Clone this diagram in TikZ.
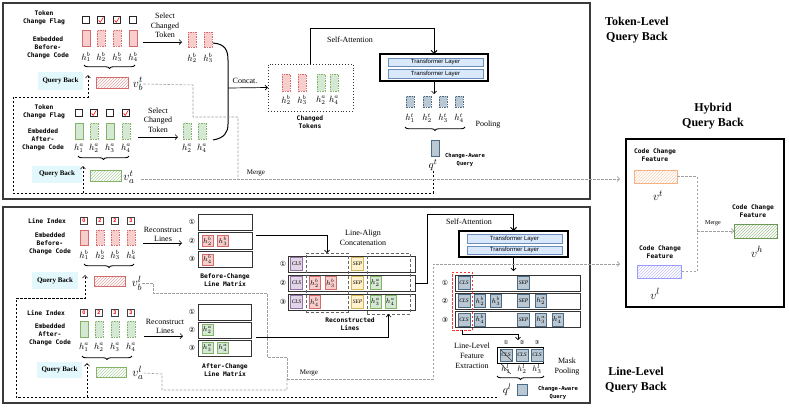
\documentclass[tikz,border=0pt]{standalone}
\usepackage{fontspec}
\usetikzlibrary{arrows.meta,decorations.pathreplacing,patterns,calc}
\setmainfont{Liberation Serif}
\setmonofont{DejaVu Sans Mono}
\setsansfont{Liberation Sans}
\newfontfamily\djv{DejaVu Sans}
\definecolor{pinkf}{HTML}{F8CECC}
\definecolor{pinkd}{HTML}{D46A6A}
\definecolor{greenf}{HTML}{D5E8D4}
\definecolor{greend}{HTML}{82B366}
\definecolor{bgf}{HTML}{BAC8D3}
\definecolor{bgd}{HTML}{4A6A85}
\definecolor{purf}{HTML}{E1D5E7}
\definecolor{purd}{HTML}{9673A6}
\definecolor{yelf}{HTML}{FFF2CC}
\definecolor{yeld}{HTML}{D6B656}
\definecolor{tlf}{HTML}{DAE8FC}
\definecolor{tld}{HTML}{6C8EBF}
\definecolor{qbf}{HTML}{E3F8FC}
\definecolor{panelc}{HTML}{3A3A3A}
\definecolor{mgray}{HTML}{A0A0A0}
\definecolor{orgd}{HTML}{F4B183}
\definecolor{purh}{HTML}{9999FF}
\definecolor{grh}{HTML}{6A9955}
\tikzset{
  nb/.style={inner sep=0pt, outer sep=0pt},
  tbar/.style={nb, rectangle, minimum width=8pt, minimum height=#1},
  pk/.style={fill=pinkf, draw=pinkd, line width=0.5pt},
  gr/.style={fill=greenf, draw=greend, line width=0.5pt},
  bgc/.style={fill=bgf, draw=bgd, line width=0.5pt},
  dsh/.style={dash pattern=on 1.5pt off 1pt},
  mono/.style={font=\ttfamily\bfseries\fontsize{6.3}{8}\selectfont, align=center, inner sep=0pt},
  smono/.style={font=\ttfamily\bfseries\fontsize{5.5}{8}\selectfont, align=center, inner sep=0pt},
  ser/.style={font=\fontsize{8}{9.5}\selectfont, align=center, inner sep=0pt},
  mser/.style={font=\fontsize{7}{8}\selectfont, inner sep=0pt},
  lab/.style={font=\fontsize{9}{10}\selectfont, inner sep=0pt},
  slab/.style={font=\fontsize{8}{9}\selectfont, inner sep=0pt},
  vlab/.style={font=\fontsize{13}{14}\selectfont, inner sep=0pt},
  qlab/.style={font=\fontsize{11}{12}\selectfont, inner sep=0pt},
  ttl/.style={font=\bfseries\fontsize{12}{15}\selectfont, align=center, inner sep=0pt},
  qb/.style={nb, fill=qbf, font=\bfseries\fontsize{7}{8}\selectfont},
  hatch/.style={nb, draw=#1, line width=0.6pt, pattern=north east lines, pattern color=#1!60},
  chk/.style={nb, draw=black!85, line width=0.7pt, minimum size=7pt},
  idx/.style={nb, draw=black!75, line width=0.8pt, minimum size=7pt, text=red, font=\sffamily\bfseries\fontsize{5.5}{6}\selectfont},
  arr/.style={-{Straight Barb[length=2.5pt,width=5pt]}, line width=0.7pt},
  sarr/.style={-{Straight Barb[length=3pt,width=6pt]}, line width=1pt},
  qarr/.style={-{Straight Barb[length=2.5pt,width=5pt]}, line width=0.7pt, dash pattern=on 2.5pt off 1.5pt},
  mline/.style={draw=mgray, line width=0.6pt, dash pattern=on 2.5pt off 1.5pt},
  marr/.style={mline, -{Straight Barb[length=2.5pt,width=5pt]}},
  brc/.style={decorate, decoration={brace, mirror, amplitude=3.5pt}, line width=0.9pt},
  panel/.style={draw=panelc, line width=1.6pt},
  cell/.style={nb, minimum width=11pt, minimum height=11pt, font=\fontsize{7}{8}\selectfont},
  tok/.style={nb, minimum width=12pt, minimum height=13pt, line width=0.5pt, font=\itshape\fontsize{5.5}{6}\selectfont},
  lrow/.style={nb, draw=black!80, line width=1pt},
  circ/.style={inner sep=0pt, font=\djv\fontsize{7}{8}\selectfont},
  scirc/.style={inner sep=0pt, font=\djv\fontsize{5.5}{6}\selectfont},
  tlayer/.style={nb, fill=tlf, draw=tld, line width=0.4pt, font=\sffamily\fontsize{6}{7}\selectfont},
  tbox/.style={nb, draw=black, line width=1.3pt},
  dbox/.style={nb, draw=black!60, dash pattern=on 3pt off 2pt, line width=0.8pt},
}
\begin{document}
\begin{tikzpicture}[x=1pt,y=-1pt]
\useasboundingbox[fill=white] (0,0) rectangle (789,408);
% panels
\draw[panel] (3,3) rectangle (590,199);
\draw[panel] (3,207) rectangle (590,403);
\node[ttl] (ttl1) at (637,30) {Token-Level\\Query Back};
\node[ttl] (ttl2) at (713,116.5) {Hybrid\\Query Back};
\node[ttl] (ttl3) at (636,380.5) {Line-Level\\Query Back};

% ================= TOP PANEL =================
\node[mono] (tf1t) at (44,18) {Token\\Change Flag};
\node[mono] (te1t) at (48,47.5) {Embedded\\Before-\\Change Code};
\foreach \i/\x in {1/86,2/101,3/117,4/133}{
  \node[chk] (tc\i) at (\x,20) {};
  \node[lab] (tbl\i) at (\x,57) {$h_{\i}^{b}$};
}
\foreach \i/\x in {1/86,4/133} \node[tbar=16pt,pk] (tb\i) at (\x,38) {};
\foreach \i/\x in {2/101,3/117} \node[tbar=16pt,pk,dsh] (tb\i) at (\x,38) {};
\foreach \i in {2,3} \draw[red, line width=0.6pt] ($(tc\i)+(-2.3,0.3)$) -- ($(tc\i)+(-0.8,2.3)$) -- ($(tc\i)+(2.3,-2.6)$);
\draw[brc] (84,65) -- (135,65);
\node[qb, minimum width=45pt, minimum height=18pt] (tqb1) at (60.5,81) {Query Back};
\node[hatch=pinkd, minimum width=32pt, minimum height=11pt] (tvb) at (112,82.5) {};
\node[vlab] (tvbl) at (138,84) {$v_b^t$};

\node[mono] (tf2t) at (44,112) {Token\\Change Flag};
\node[mono] (te2t) at (43,139.5) {Embedded\\After-\\Change Code};
\foreach \i/\x in {1/79,2/94,3/110,4/126}{
  \node[chk] (tac\i) at (\x,113) {};
  \node[lab] (tal\i) at (\x,148) {$h_{\i}^{a}$};
}
\foreach \i/\x in {1/79,3/110} \node[tbar=16pt,gr] (ta\i) at (\x,131) {};
\foreach \i/\x in {2/94,4/126} \node[tbar=16pt,gr,dsh] (ta\i) at (\x,131) {};
\foreach \i in {2,4} \draw[red, line width=0.6pt] ($(tac\i)+(-2.3,0.3)$) -- ($(tac\i)+(-0.8,2.3)$) -- ($(tac\i)+(2.3,-2.6)$);
\draw[brc] (78,156) -- (129,156);
\node[qb, minimum width=50pt, minimum height=17pt] (tqb2) at (57,174) {Query Back};
\node[hatch=greend, minimum width=31pt, minimum height=11pt] (tva) at (105.5,175.5) {};
\node[vlab] (tval) at (129,177) {$v_a^t$};

% select changed token
\node[ser] (tsel1) at (165,25.5) {Select\\Changed\\Token};
\coordinate (tsa1) at (143,42); \coordinate (tsb1) at (182,42);
\draw[arr] (tsa1) -- (tsb1);
\node[ser] (tsel2) at (158,120) {Select\\Changed\\Token};
\coordinate (tsa2) at (138,137); \coordinate (tsb2) at (178,137);
\draw[arr] (tsa2) -- (tsb2);
\node[tbar=15pt,pk,dsh] (ts2) at (192,39.5) {};
\node[tbar=15pt,pk,dsh] (ts3) at (208,39.5) {};
\node[lab] (ts2l) at (192,58) {$h_2^b$};
\node[lab] (ts3l) at (208,58) {$h_3^b$};
\node[tbar=16pt,gr,dsh] (tsa2n) at (187,131) {};
\node[tbar=16pt,gr,dsh] (tsa4n) at (202,131) {};
\node[lab] (tsa2l) at (187,148) {$h_2^a$};
\node[lab] (tsa4l) at (202,148) {$h_4^a$};

% concat
\node[nb, draw=black!80, dotted, line width=0.9pt, minimum width=85pt, minimum height=47pt] (ctbox) at (310.5,87.5) {};
\coordinate (cc1) at (213,43); \coordinate (cc2) at (213,140); \coordinate (ccm) at (228,88);
\draw[line width=1pt] (cc1) .. controls (225,44) and (228,50) .. (228,60) -- (228,124) .. controls (228,133) and (224,138) .. (cc2);
\draw[arr] (ccm) -- (ctbox.west);
\node[ser] (tcat) at (245,81) {Concat.};
\node[tbar=17pt,pk,dsh] (ct1) at (286,82.5) {};
\node[tbar=17pt,pk,dsh] (ct2) at (302,82.5) {};
\node[tbar=17pt,gr,dsh] (ct3) at (321,82.5) {};
\node[tbar=17pt,gr,dsh] (ct4) at (334,82.5) {};
\node[lab] (ct1l) at (286,100) {$h_2^b$};
\node[lab] (ct2l) at (302,100) {$h_3^b$};
\node[lab] (ct3l) at (321,100) {$h_2^a$};
\node[lab] (ct4l) at (334,100) {$h_4^a$};
\node[mono] (ctt) at (310,122.5) {Changed\\Tokens};

% transformer top
\node[tbox, minimum width=108pt, minimum height=27pt] (tf1) at (434,67.5) {};
\node[tlayer, minimum width=95pt, minimum height=8pt] (tf1a) at (435.5,62) {Transformer Layer};
\node[tlayer, minimum width=95pt, minimum height=9pt] (tf1b) at (435.5,73.5) {Transformer Layer};
\draw[sarr] (ctbox.north) |- ($(tf1.north)+(0,-26)$) -- (tf1.north);
\node[ser] (tsat) at (350,40) {Self-Attention};
\coordinate (tfo1) at (434,94);
\draw[arr] (tf1.south) -- (tfo1);
\foreach \i/\x in {1/410,2/427,3/443,4/459}{
  \node[tbar=11pt,bgc,dsh] (to\i) at (\x,101.5) {};
  \node[lab] (tol\i) at (\x,118) {$h_{\i}^{t}$};
}
\draw[brc] (405,127) -- (465,127);
\node[ser] (tpool) at (488,125) {Pooling};
\node[tbar=16pt,bgc] (qt) at (435,148) {};
\node[qlab] (qtl) at (433,165) {$q^t$};
\node[smono] (tcaq) at (465,160) {Change-Aware\\Query};

% query back loop top
\coordinate (tq1) at (433,193); \coordinate (tq2) at (13,193);
\coordinate (tq3) at (13,97); \coordinate (tq4) at (88,97); \coordinate (tq5) at (88,75);
\draw[qarr] (qtl.south) -- (tq1) -- (tq2) -- (tq3) -- (tq4) -- (tq5);
\coordinate (tq6) at (83,193); \coordinate (tq7) at (83,166);
\draw[qarr] (tq6) -- (tq7);

% merge top
\coordinate (tm1) at (193,85); \coordinate (tm2) at (193,117);
\coordinate (tm3) at (238,117); \coordinate (tm4) at (238,179);
\draw[mline] (tvbl.east) -- (tm1) -- (tm2) -- (tm3) -- (tm4);
\coordinate (tm5) at (141,179); \coordinate (hin1) at (620,179);
\draw[marr] (tm5) -- (hin1);
\node[mser] (tmerge) at (256,173) {Merge};

% ================= HYBRID =================
\draw[line width=1.3pt] (626,139) rectangle (784,307);
\node[mono] (hct1) at (655,155.5) {Code Change\\Feature};
\node[hatch=orgd, minimum width=43pt, minimum height=13pt] (hv1) at (655.5,176.5) {};
\node[vlab] (hv1l) at (658,196) {$v^t$};
\node[mono] (hct3) at (660,252) {Code Change\\Feature};
\node[hatch=purh, minimum width=44pt, minimum height=13pt] (hv3) at (659,271.5) {};
\node[vlab] (hv3l) at (655,294) {$v^l$};
\node[mono] (hct2) at (753,211.5) {Code Change\\Feature};
\node[hatch=grh, minimum width=43pt, minimum height=14pt] (hv2) at (755.5,231) {};
\node[vlab] (hv2l) at (757,252) {$v^h$};
\coordinate (hm1) at (697,176.5); \coordinate (hm2) at (697,271.5); \coordinate (hm3) at (697,231);
\draw[mline] (hv1.east) -- (hm1) -- (hm2) -- (hv3.east);
\draw[marr] (hm3) -- (hv2.west);
\node[font=\fontsize{6}{7}\selectfont, inner sep=0pt] (hmerge) at (713,223) {Merge};

% ================= BOTTOM PANEL =================
\node[mono] (lli1) at (47,221) {Line Index};
\node[mono] (le1) at (50,244) {Embedded\\Before-\\Change Code};
\foreach \i/\x/\n in {1/84/0,2/100/2,3/115/2,4/131/3}{
  \node[idx] (lbi\i) at (\x,221) {\n};
  \node[lab] (lbl\i) at (\x,255) {$h_{\i}^{b}$};
}
\node[tbar=15pt,pk] (lb1) at (84,237.5) {};
\foreach \i/\x in {2/100,3/115,4/131} \node[tbar=15pt,pk,dsh] (lb\i) at (\x,237.5) {};
\draw[brc] (84,264) -- (134,264);
\node[qb, minimum width=46pt, minimum height=17pt] (lqb1) at (55,280.5) {Query Back};
\node[hatch=pinkd, minimum width=31pt, minimum height=10pt] (lvb) at (109.5,281) {};
\node[vlab] (lvbl) at (137,283) {$v_b^l$};

\node[mono] (lli2) at (46,313) {Line Index};
\node[mono] (le2) at (50,335) {Embedded\\After-\\Change Code};
\foreach \i/\x/\n in {1/84/0,2/99/2,3/115/3,4/131/3}{
  \node[idx] (lai\i) at (\x,313) {\n};
  \node[lab] (lal\i) at (\x,347) {$h_{\i}^{a}$};
}
\node[tbar=16pt,gr] (la1) at (84,329) {};
\foreach \i/\x in {2/99,3/115,4/131} \node[tbar=16pt,gr,dsh] (la\i) at (\x,329) {};
\draw[brc] (82,356) -- (132,356);
\node[qb, minimum width=45pt, minimum height=16pt] (lqb2) at (59.5,370) {Query Back};
\node[hatch=greend, minimum width=30pt, minimum height=10pt] (lva) at (111,372) {};
\node[vlab] (lval) at (138,373) {$v_a^l$};

% reconstruct lines
\node[ser] (lrl1) at (163,234.5) {Reconstruct\\Lines};
\coordinate (lra1) at (143,243); \coordinate (lrb1) at (182,243);
\draw[arr] (lra1) -- (lrb1);
\node[ser] (lrl2) at (165,326.5) {Reconstruct\\Lines};
\coordinate (lra2) at (144,336); \coordinate (lrb2) at (183,336);
\draw[arr] (lra2) -- (lrb2);
\foreach \j/\y/\c in {1/222.3/①,2/240.8/②,3/259.3/③}{
  \node[circ] (bcn\j) at (192,\y) {\c};
  \node[lrow, minimum width=54pt, minimum height=16.5pt] (bm\j) at (225,\y) {};
}
\foreach \j/\y/\c in {1/312/①,2/330/②,3/348/③}{
  \node[circ] (acn\j) at (192,\y) {\c};
  \node[lrow, minimum width=53pt, minimum height=16pt] (am\j) at (224.5,\y) {};
}
\node[cell,pk] (bmc1) at (207.5,240.8) {$h_2^b$};
\node[cell,pk] (bmc2) at (223,240.8) {$h_3^b$};
\node[cell,pk] (bmc3) at (207.5,259.3) {$h_4^b$};
\node[cell,gr] (amc1) at (207.5,330) {$h_2^a$};
\node[cell,gr] (amc2) at (207.5,348) {$h_3^a$};
\node[cell,gr] (amc3) at (223,348) {$h_4^a$};
\node[mono] (bmt) at (225,280) {Before-Change\\Line Matrix};
\node[mono] (amt) at (225,370) {After-Change\\Line Matrix};

% reconstructed lines
\foreach \j/\y/\c in {1/264/①,2/283/②,3/302/③}{
  \node[circ] (rcn\j) at (283,\y) {\c};
  \node[lrow, minimum width=127pt, minimum height=16pt] (rr\j) at (351.5,\y) {};
  \node[tok, fill=purf, draw=purd] (rcls\j) at (296.5,\y) {CLS};
  \node[tok, fill=yelf, draw=yeld] (rsep\j) at (357.5,\y) {SEP};
}
\node[cell,pk,minimum height=13pt] (r2b2) at (314.5,283) {$h_2^b$};
\node[cell,pk,minimum height=13pt] (r2b3) at (330.5,283) {$h_3^b$};
\node[cell,gr,minimum height=13pt] (r2a2) at (375.5,283) {$h_2^a$};
\node[cell,pk,minimum height=13pt] (r3b4) at (314.5,302) {$h_4^b$};
\node[cell,gr,minimum height=13pt] (r3a3) at (375.5,302) {$h_3^a$};
\node[cell,gr,minimum height=13pt] (r3a4) at (390.5,302) {$h_4^a$};
\node[dbox, minimum width=42pt, minimum height=59pt] (dbb) at (327,282.5) {};
\node[dbox, minimum width=43pt, minimum height=61pt] (dba) at (388.5,283.5) {};
\node[ser] (lac) at (363,238) {Line-Align\\Concatenation};
\node[mono] (rlt) at (350,324) {Reconstructed\\Lines};
\coordinate (bma) at (256,235);
\draw[arr] (bma) -| (dbb.north);
\coordinate (ama) at (256,337);
\draw[arr] (ama) -| (dba.south);

% transformer bottom
\node[tbox, minimum width=109pt, minimum height=26pt] (tf2) at (513.5,244) {};
\node[tlayer, minimum width=95pt, minimum height=9pt] (tf2a) at (514.5,238.5) {Transformer Layer};
\node[tlayer, minimum width=95pt, minimum height=8pt] (tf2b) at (514.5,250) {Transformer Layer};
\coordinate (sa2) at (427,214);
\draw[sarr] (rr2.east) -| (sa2) -| (tf2.north);
\node[ser] (lsat) at (469,222) {Self-Attention};
\coordinate (tfo2) at (513.5,271);
\draw[arr] (tf2.south) -- (tfo2);

% output rows
\foreach \j/\y/\c in {1/283/①,2/301/②,3/319.5/③}{
  \node[circ] (ocn\j) at (445,\y) {\c};
  \node[lrow, minimum width=125pt, minimum height=16pt] (or\j) at (517.5,\y) {};
  \node[tok, fill=bgf, draw=bgd] (ocls\j) at (464,\y) {CLS};
  \node[tok, fill=bgf, draw=bgd] (osep\j) at (523.5,\y) {SEP};
}
\node[cell,bgc,minimum height=13pt] (o2b2) at (480,301) {$h_2^b$};
\node[cell,bgc,minimum height=13pt] (o2b3) at (496,301) {$h_3^b$};
\node[cell,bgc,minimum height=13pt] (o2a2) at (541,301) {$h_2^a$};
\node[cell,bgc,minimum height=13pt] (o3b4) at (480,319.5) {$h_4^b$};
\node[cell,bgc,minimum height=13pt] (o3a3) at (541,319.5) {$h_3^a$};
\node[cell,bgc,minimum height=13pt] (o3a4) at (557.5,319.5) {$h_4^a$};
\node[nb, draw=red!80, dash pattern=on 2.5pt off 1.5pt, line width=0.7pt, minimum width=20pt, minimum height=58pt] (rdb) at (462,301) {};

% mask pooling
\node[tbox, line width=1pt, minimum width=46pt, minimum height=16pt] (mb) at (520,355) {};
\foreach \k/\x/\c in {1/506/①,2/522/②,3/537/③}{
  \node[tok, fill=bgf, draw=bgd, minimum height=12pt] (mc\k) at (\x,355) {CLS};
  \node[scirc] (mcn\k) at (\x,342.5) {\c};
  \node[slab] (ml\k) at (\x,369) {$h_{\k}^{l}$};
}
\draw[line width=0.5pt, black!75] (mc1.north west) -- (mc1.south east);
\draw[line width=0.5pt, black!75] (ml1.north west) -- (ml1.south east);
\coordinate (mbin) at (518,340);
\draw[arr] (rdb.south) -- ++(0,4) -| (mbin);
\draw[brc] (497,376) -- (544,376);
\node[tbar=11pt,bgc,minimum width=10pt] (ql) at (522,389.5) {};
\node[qlab] (qll) at (507,390) {$q^l$};
\node[smono] (lcaq) at (558,392.5) {Change-Aware\\Query};
\node[ser, font=\fontsize{8}{10}\selectfont] (llfe) at (472,356) {Line-Level\\Feature\\Extraction};
\node[ser, font=\fontsize{8}{10}\selectfont] (lmp) at (567,367) {Mask\\Pooling};

% query back loop bottom
\coordinate (lq0) at (497,397); \coordinate (lq1) at (16,397);
\coordinate (lq2) at (16,298); \coordinate (lq3) at (85,298); \coordinate (lq4) at (85,275);
\draw[qarr] (lq0) -- (lq1) -- (lq2) -- (lq3) -- (lq4);
\coordinate (lq5) at (87,397); \coordinate (lq6) at (87,363);
\draw[qarr] (lq5) -- (lq6);

% merge bottom
\coordinate (lm1) at (153,283); \coordinate (lm2) at (153,293);
\coordinate (lm3) at (267,293); \coordinate (lm4) at (267,357);
\coordinate (lm5) at (287,357); \coordinate (lmj) at (287,379);
\draw[mline] (lvbl.east) -- (lm1) -- (lm2) -- (lm3) -- (lm4) -- (lm5) -- (lmj);
\coordinate (lm6) at (162,374); \coordinate (lm7) at (162,390); \coordinate (lm8) at (287,390);
\draw[mline] (lval.east) -- (lm6) -- (lm7) -- (lm8) -- (lmj);
\coordinate (lm9) at (433,379); \coordinate (lm10) at (433,264); \coordinate (hin2) at (620,264);
\draw[marr] (lmj) -- (lm9) -- (lm10) -- (hin2);
\node[mser] (lmerge) at (309,373) {Merge};
\end{tikzpicture}
\end{document}
